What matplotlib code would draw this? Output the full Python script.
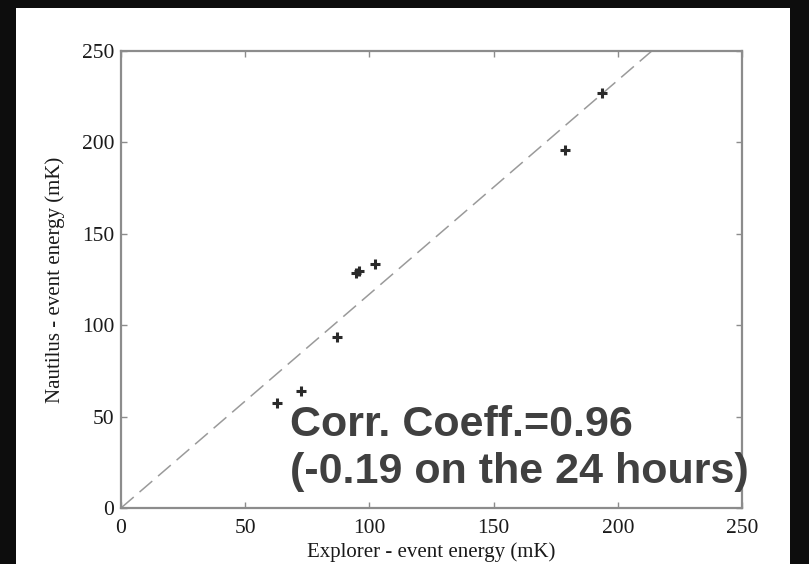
import numpy as np
import matplotlib.pyplot as plt
from matplotlib.patches import Rectangle

# Event energies (mK)
explorer = [62.8, 72.5, 87.0, 94.5, 96.0, 102.3, 178.7, 193.6]
nautilus = [57.4, 64.0, 93.5, 128.5, 129.5, 133.5, 195.8, 227.0]
fit_slope = 1.17
ticks = [0, 50, 100, 150, 200, 250]

W, H = 809, 564
fig = plt.figure(figsize=(W / 100, H / 100), dpi=100)
fig.patch.set_facecolor('#0d0d0d')

# white page area inside the black frame
fig.add_artist(Rectangle((16 / W, 0), (790 - 16) / W, (H - 8) / H,
                         transform=fig.transFigure, facecolor='white',
                         edgecolor='none', zorder=-10))

ax = fig.add_axes([121 / W, 1 - 508 / H, (742 - 121) / W, (508 - 51) / H])
ax.set_facecolor('white')

xs = np.array([0, 250])
ax.plot(xs, fit_slope * xs, color='#9a9a9a', lw=1.1, dashes=(11, 5))
ax.plot(explorer, nautilus, linestyle='none', marker='+', ms=7, mew=2.2,
        color='#2a2a2a')

ax.set_xlim(0, 250)
ax.set_ylim(0, 250)
ax.set_xticks(ticks)
ax.set_yticks(ticks)
for s in ax.spines.values():
    s.set_color('#8c8c8c')
    s.set_linewidth(1.6)
ax.tick_params(direction='in', length=4, width=1, color='#8c8c8c',
               top=True, right=True, labelsize=15.5, labelcolor='#1a1a1a')
ax.tick_params(axis='x', pad=8)
ax.tick_params(axis='y', pad=5)
for lab in ax.get_xticklabels() + ax.get_yticklabels():
    lab.set_fontfamily('Liberation Serif')

ax.set_xlabel('Explorer - event energy (mK)', family='Liberation Serif',
              fontsize=15, color='#1a1a1a', labelpad=3)
ax.set_ylabel('Nautilus - event energy (mK)', family='Liberation Serif',
              fontsize=15, color='#1a1a1a', labelpad=12)

fig.text(290 / W, 1 - 425 / H, 'Corr. Coeff.=0.96', family='Liberation Sans',
         fontweight='bold', fontsize=31, color='#404040', va='center', ha='left')
fig.text(290 / W, 1 - 472 / H, '(-0.19 on the 24 hours)', family='Liberation Sans',
         fontweight='bold', fontsize=31, color='#404040', va='center', ha='left')

fig.savefig('out.png', dpi=100, facecolor=fig.get_facecolor())
